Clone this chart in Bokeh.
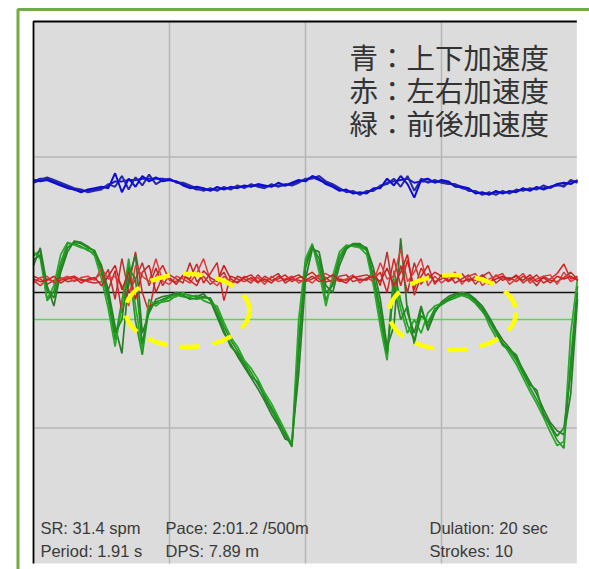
from bokeh.plotting import figure
from bokeh.models import Range1d, ColumnDataSource
from bokeh.core.properties import value
from bokeh.embed import file_html
from bokeh.resources import INLINE

# ---- data (acceleration traces of overlaid strokes, 1 grid unit per division) ----
sample_t = [round(i * 0.05, 2) for i in range(81)]

blue_1 = [0.82, 0.84, 0.84, 0.82, 0.80, 0.78, 0.76, 0.75, 0.75, 0.76,
          0.77, 0.79, 0.82, 0.82, 0.83, 0.83, 0.84, 0.84, 0.84, 0.84,
          0.83, 0.82, 0.80, 0.78, 0.76, 0.76, 0.76, 0.76, 0.77, 0.77,
          0.78, 0.78, 0.79, 0.79, 0.78, 0.79, 0.79, 0.79, 0.80, 0.82,
          0.83, 0.85, 0.83, 0.81, 0.79, 0.76, 0.75, 0.74, 0.73, 0.74,
          0.76, 0.78, 0.81, 0.82, 0.83, 0.84, 0.81, 0.82, 0.82, 0.82,
          0.82, 0.81, 0.79, 0.77, 0.76, 0.74, 0.73, 0.73, 0.74, 0.74,
          0.74, 0.75, 0.76, 0.76, 0.77, 0.77, 0.78, 0.79, 0.79, 0.82, 0.82]
blue_2 = [0.81, 0.83, 0.85, 0.83, 0.81, 0.79, 0.77, 0.76, 0.74, 0.75,
          0.76, 0.80, 0.78, 0.86, 0.76, 0.85, 0.79, 0.87, 0.80, 0.83,
          0.84, 0.81, 0.81, 0.79, 0.77, 0.75, 0.77, 0.75, 0.78, 0.76,
          0.79, 0.77, 0.80, 0.78, 0.77, 0.80, 0.78, 0.80, 0.79, 0.81,
          0.84, 0.84, 0.86, 0.82, 0.80, 0.77, 0.74, 0.75, 0.72, 0.75,
          0.75, 0.79, 0.80, 0.84, 0.78, 0.86, 0.75, 0.84, 0.81, 0.83,
          0.81, 0.80, 0.80, 0.78, 0.75, 0.75, 0.72, 0.74, 0.72, 0.75,
          0.73, 0.76, 0.75, 0.77, 0.76, 0.79, 0.77, 0.80, 0.78, 0.83, 0.81]
blue_3 = [0.83, 0.82, 0.83, 0.81, 0.79, 0.77, 0.76, 0.74, 0.76, 0.77,
          0.78, 0.77, 0.88, 0.74, 0.84, 0.78, 0.86, 0.82, 0.85, 0.82,
          0.83, 0.82, 0.79, 0.77, 0.78, 0.77, 0.75, 0.78, 0.76, 0.78,
          0.77, 0.79, 0.78, 0.80, 0.79, 0.78, 0.81, 0.79, 0.81, 0.83,
          0.82, 0.86, 0.84, 0.80, 0.78, 0.75, 0.76, 0.73, 0.74, 0.73,
          0.77, 0.77, 0.84, 0.79, 0.86, 0.80, 0.70, 0.83, 0.84, 0.81,
          0.83, 0.82, 0.78, 0.78, 0.77, 0.73, 0.74, 0.72, 0.75, 0.73,
          0.75, 0.74, 0.77, 0.75, 0.78, 0.76, 0.78, 0.80, 0.81, 0.80, 0.83]

red_1 = [0.09, 0.05, 0.10, 0.08, 0.09, 0.11, 0.12, 0.09, 0.09, 0.10,
         0.14, 0.02, 0.16, -0.15, 0.05, 0.30, 0.00, -0.15, 0.12, 0.20,
         0.09, 0.08, 0.12, 0.10, 0.21, 0.07, 0.14, 0.22, -0.06, 0.12,
         0.10, 0.08, 0.11, 0.07, 0.12, 0.09, 0.10, 0.13, 0.08, 0.11,
         0.12, 0.15, 0.10, 0.08, 0.09, 0.10, 0.09, 0.11, 0.12, 0.13,
         0.10, 0.15, 0.00, 0.25, 0.05, 0.24, 0.02, 0.18, 0.10, 0.15,
         0.12, 0.08, 0.11, 0.14, 0.08, 0.12, 0.10, 0.06, 0.13, 0.09,
         0.11, 0.08, 0.12, 0.09, 0.13, 0.07, 0.10, 0.14, 0.21, 0.10, 0.12]
red_2 = [0.12, 0.10, 0.06, 0.09, 0.11, 0.08, 0.09, 0.10, 0.08, 0.07,
         0.08, 0.17, -0.05, 0.25, 0.00, 0.10, 0.22, 0.05, 0.18, 0.05,
         0.13, 0.10, 0.07, 0.22, 0.08, 0.12, 0.06, 0.10, 0.15, 0.05,
         0.12, 0.10, 0.07, 0.13, 0.08, 0.11, 0.14, 0.07, 0.10, 0.09,
         0.08, 0.10, 0.13, 0.11, 0.07, 0.12, 0.13, 0.08, 0.10, 0.09,
         0.16, 0.05, 0.30, -0.02, 0.20, 0.00, 0.22, 0.06, 0.14, 0.08,
         0.10, 0.14, 0.07, 0.10, 0.13, 0.06, 0.12, 0.15, 0.07, 0.11,
         0.09, 0.13, 0.07, 0.11, 0.05, 0.12, 0.09, 0.08, 0.11, 0.15, 0.10]
red_3 = [0.07, 0.11, 0.12, 0.07, 0.10, 0.12, 0.08, 0.11, 0.12, 0.09,
         0.18, 0.10, 0.12, 0.05, -0.10, 0.20, 0.12, 0.08, 0.25, 0.08,
         0.06, 0.12, 0.10, 0.07, 0.14, 0.25, 0.09, 0.05, 0.12, 0.08,
         0.08, 0.12, 0.09, 0.11, 0.06, 0.12, 0.08, 0.10, 0.12, 0.07,
         0.10, 0.07, 0.12, 0.14, 0.11, 0.08, 0.10, 0.13, 0.07, 0.11,
         0.08, 0.22, 0.10, 0.12, 0.32, 0.08, 0.15, 0.25, 0.05, 0.12,
         0.07, 0.11, 0.15, 0.06, 0.12, 0.14, 0.05, 0.10, 0.12, 0.14,
         0.06, 0.10, 0.14, 0.07, 0.10, 0.12, 0.13, 0.06, 0.15, 0.08, 0.11]
red_4 = [0.10, 0.08, 0.09, 0.12, 0.07, 0.10, 0.11, 0.07, 0.10, 0.11,
         0.05, 0.12, 0.20, 0.02, 0.15, -0.05, 0.15, 0.20, 0.00, 0.12,
         0.11, 0.06, 0.13, 0.09, 0.05, 0.16, 0.11, 0.08, 0.20, 0.10,
         0.07, 0.11, 0.13, 0.08, 0.10, 0.07, 0.12, 0.09, 0.11, 0.13,
         0.09, 0.12, 0.08, 0.10, 0.13, 0.09, 0.07, 0.12, 0.09, 0.10,
         0.12, 0.08, 0.18, 0.05, 0.15, 0.28, -0.02, 0.12, 0.20, 0.06,
         0.13, 0.09, 0.12, 0.08, 0.10, 0.09, 0.13, 0.08, 0.10, 0.12,
         0.10, 0.12, 0.09, 0.13, 0.08, 0.11, 0.07, 0.12, 0.10, 0.12, 0.09]

green_1 = [0.27, 0.31, -0.06, 0.01, 0.22, 0.36, 0.36, 0.34, 0.31, 0.29,
           0.15, -0.06, -0.35, -0.06, 0.21, -0.21, -0.46, -0.10, -0.08, -0.07,
           -0.06, -0.02, -0.03, -0.04, -0.05, -0.04, -0.04, -0.13, -0.25, -0.35,
           -0.43, -0.51, -0.59, -0.68, -0.76, -0.85, -0.94, -1.06, -1.13, -0.35,
           0.22, 0.35, 0.20, -0.06, 0.07, 0.27, 0.34, 0.35, 0.34, 0.31,
           0.09, -0.19, -0.46, 0.16, -0.06, -0.24, -0.35, -0.17, -0.22, -0.12,
           -0.09, -0.06, -0.04, -0.02, -0.04, -0.08, -0.14, -0.21, -0.30, -0.39,
           -0.43, -0.50, -0.60, -0.70, -0.79, -0.89, -0.99, -1.09, -1.15, -0.50, 0.05]
green_2 = [0.20, 0.33, 0.05, -0.10, 0.15, 0.30, 0.38, 0.37, 0.34, 0.30,
           0.20, 0.02, -0.25, -0.45, 0.10, 0.28, -0.30, -0.15, -0.05, -0.03,
           -0.02, 0.00, -0.01, -0.02, -0.03, -0.01, -0.06, -0.18, -0.30, -0.38,
           -0.47, -0.55, -0.63, -0.71, -0.80, -0.90, -0.98, -1.08, -1.10, -0.60,
           0.10, 0.32, 0.30, 0.05, 0.00, 0.20, 0.32, 0.36, 0.35, 0.33,
           0.18, -0.05, -0.40, -0.25, 0.40, -0.15, -0.30, -0.10, -0.28, -0.15,
           -0.07, -0.03, -0.01, 0.00, -0.01, -0.05, -0.10, -0.18, -0.27, -0.35,
           -0.41, -0.48, -0.57, -0.66, -0.75, -0.86, -0.96, -1.02, -1.05, -0.75, -0.05]
green_3 = [0.30, 0.25, -0.05, 0.05, 0.28, 0.37, 0.35, 0.33, 0.32, 0.27,
           0.10, -0.12, -0.40, -0.10, 0.25, -0.10, -0.42, -0.05, -0.10, -0.06,
           -0.04, -0.03, 0.00, -0.03, -0.02, -0.06, -0.08, -0.10, -0.22, -0.33,
           -0.40, -0.50, -0.56, -0.64, -0.74, -0.82, -0.92, -1.02, -1.12, -0.20,
           0.25, 0.36, 0.15, -0.10, 0.12, 0.30, 0.35, 0.34, 0.33, 0.28,
           0.05, -0.25, -0.50, 0.10, -0.12, -0.30, -0.20, -0.30, -0.15, -0.10,
           -0.08, -0.04, -0.03, -0.02, -0.03, -0.07, -0.12, -0.24, -0.33, -0.37,
           -0.45, -0.53, -0.63, -0.73, -0.82, -0.92, -1.03, -1.13, -1.10, -0.30, 0.10]
green_4 = [0.24, 0.28, 0.02, -0.04, 0.18, 0.33, 0.37, 0.36, 0.33, 0.31,
           0.18, -0.02, -0.30, -0.20, 0.18, 0.10, -0.38, -0.12, -0.07, -0.05,
           -0.03, -0.01, -0.02, -0.05, -0.04, -0.03, -0.05, -0.16, -0.28, -0.40,
           -0.45, -0.53, -0.62, -0.66, -0.78, -0.87, -0.96, -1.04, -1.14, -0.45,
           0.18, 0.34, 0.25, 0.00, 0.05, 0.24, 0.33, 0.36, 0.36, 0.32,
           0.12, -0.12, -0.45, 0.05, -0.20, -0.10, -0.38, -0.12, -0.25, -0.14,
           -0.08, -0.05, -0.02, -0.01, -0.02, -0.06, -0.12, -0.20, -0.28, -0.38,
           -0.42, -0.46, -0.58, -0.68, -0.72, -0.90, -0.98, -1.06, -1.00, -0.60, 0.00]

forward_ref_level = -0.2
legend_lines = ["青：上下加速度", "赤：左右加速度", "緑：前後加速度"]
stats_col1 = ["SR: 31.4 spm", "Period: 1.91 s"]
stats_col2 = ["Pace: 2:01.2 /500m", "DPS: 7.89 m"]
stats_col3 = ["Dulation: 20 sec", "Strokes: 10"]

# ---- figure ----
p = figure(width=589, height=569, output_backend="svg", toolbar_location=None,
           x_range=Range1d(-0.24265, 4.08824), y_range=Range1d(-2.0443, 2.1550),
           x_axis_location=None, y_axis_location=None, min_border=0)
p.grid.visible = False
p.outline_line_color = None
p.background_fill_color = "white"
p.border_fill_color = "white"

# plot area
p.quad(left=0, right=3.995, bottom=-2, top=2, fill_color="#dcdcdc", line_color=None)
p.segment(x0=[1, 2, 3], y0=-2, x1=[1, 2, 3], y1=2, line_color="#b6b6b6", line_width=1.5)
p.segment(x0=0, y0=[-1, 1], x1=3.995, y1=[-1, 1], line_color="#b6b6b6", line_width=1.5)

# outer green frame
p.line(x=[-0.114, -0.114, 4.2], y=[-2.2, 2.0886, 2.0886], line_color="#70ad47", line_width=3)

src = ColumnDataSource(dict(t=sample_t, b1=blue_1, b2=blue_2, b3=blue_3,
                            r1=red_1, r2=red_2, r3=red_3, r4=red_4,
                            g1=green_1, g2=green_2, g3=green_3, g4=green_4))

for col, c in (("b1", "#1818c8"), ("b2", "#2a2aa0"), ("b3", "#0c0cd8")):
    p.line("t", col, source=src, line_color=c, line_width=2)

# reference lines
p.segment(x0=0, y0=0, x1=3.995, y1=0, line_color="#111111", line_width=1.5)
p.segment(x0=0, y0=forward_ref_level, x1=3.995, y1=forward_ref_level, line_color="#4fdc4f", line_width=1.5)

pairs = [("g1", "#1f961f", "r1", "#d42424"), ("g2", "#2c7a2c", "r2", "#b83030"),
         ("g3", "#28a828", "r3", "#e03a3a"), ("g4", "#1e8c1e", "r4", "#cc2020")]
for gcol, gc, rcol, rc in pairs:
    p.line("t", gcol, source=src, line_color=gc, line_width=1.7)
    p.line("t", rcol, source=src, line_color=rc, line_width=1.5)

# frame edges
p.line(x=[0, 0, 3.995], y=[-2, 2, 2], line_color="black", line_width=1.8)

# highlight ellipses
p.ellipse(x=[1.132, 3.081], y=[-0.133, -0.148], width=[0.912, 0.934], height=[0.539, 0.554],
          fill_alpha=0, line_color="#ffff00", line_width=4.5, line_dash="20 13")

# legend text
p.text(x=[2.324] * 3, y=[1.742, 1.498, 1.251], text=legend_lines,
       text_font=value("Noto Sans CJK JP"), text_font_size="28.5px", text_color="#333333",
       text_baseline="middle", text_align="left")

# stats text
for xx, col in ((0.051, stats_col1), (0.971, stats_col2), (2.912, stats_col3)):
    p.text(x=[xx, xx], y=[-1.740, -1.909], text=col,
           text_font=value("Liberation Sans"), text_font_size="16.5px", text_color="#3a3a3a",
           text_baseline="alphabetic", text_align="left")

open("out.html", "w").write(file_html(p, INLINE))
